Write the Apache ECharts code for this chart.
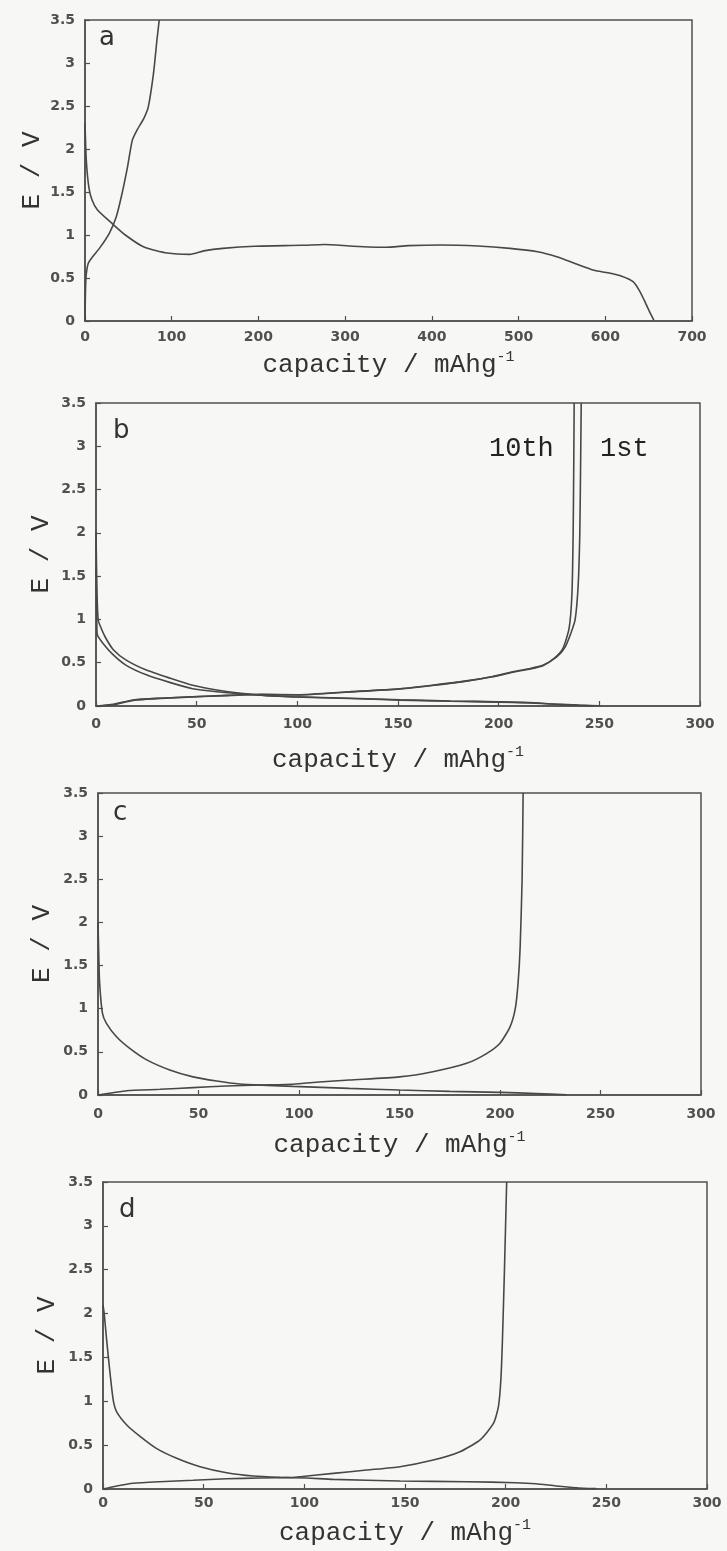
<!DOCTYPE html>
<html>
<head>
<meta charset="utf-8">
<script src="https://cdn.jsdelivr.net/npm/echarts@6/dist/echarts.min.js"></script>
<style>
  html, body { margin: 0; padding: 0; background: #f7f7f5; }
  #chart { width: 727px; height: 1551px; }
</style>
</head>
<body>
<div id="chart"></div>
<script>
// Charge/discharge profiles: [capacity (mAh/g), potential (V)]

// (a) first cycle
const aDischarge = [[0,2.3],[1.5,1.87],[4.5,1.55],[8,1.41],[14.4,1.29],[30.5,1.14],[46.5,1.0],[68,0.86],[95,0.79],[121,0.775],[137,0.815],[159,0.845],[196,0.87],[250,0.88],[276,0.89],[309,0.87],[346,0.857],[373,0.876],[410,0.884],[453,0.872],[490,0.845],[522,0.806],[544,0.748],[565,0.67],[587,0.59],[603,0.56],[619,0.52],[632,0.457],[639,0.36],[645,0.24],[651,0.11],[656,0.01]];
const aCharge = [[0,0],[1,0.48],[3.7,0.67],[9,0.75],[17,0.85],[28,1.02],[36,1.21],[42,1.45],[49,1.79],[54.5,2.1],[60,2.22],[68,2.36],[73,2.49],[79,2.88],[83,3.27],[85.6,3.5]];

// (b) 1st and 10th cycles
const b1Discharge = [[0,2.0],[0.5,1.3],[1.1,0.99],[2,0.93],[4.5,0.8],[8.6,0.65],[15,0.53],[25,0.415],[37,0.32],[48,0.24],[60,0.185],[72,0.147],[85,0.12],[98,0.107],[126,0.09],[151,0.072],[176,0.058],[200,0.048],[215,0.04],[228,0.022],[240,0.01],[250,0.003]];
const b10Discharge = [[0,1.6],[0.4,0.95],[0.7,0.82],[3.6,0.72],[8.6,0.59],[15,0.47],[25,0.36],[37,0.27],[48,0.2],[60,0.165],[72,0.14],[85,0.12],[98,0.105],[126,0.087],[151,0.068],[176,0.055],[200,0.045],[215,0.036],[228,0.02],[238,0.008],[247,0.002]];
const b1Charge = [[0,0],[8.6,0.02],[18.5,0.07],[32,0.09],[48,0.107],[65,0.123],[82,0.135],[100,0.13],[126,0.165],[151,0.2],[167,0.24],[184,0.29],[197,0.34],[207,0.395],[215,0.43],[222,0.47],[229,0.57],[233,0.68],[236,0.85],[238,1.0],[239.5,1.4],[240.3,2.0],[240.7,2.8],[241,3.5]];
const b10Charge = [[0,0],[8.6,0.015],[18.5,0.065],[32,0.088],[48,0.105],[65,0.12],[82,0.132],[100,0.127],[126,0.162],[151,0.198],[167,0.237],[184,0.287],[197,0.337],[207,0.39],[215,0.425],[222,0.465],[228,0.56],[232,0.67],[235,0.9],[236.4,1.3],[237,2.0],[237.3,2.8],[237.5,3.5]];

// (c)
const cDischarge = [[0,2.0],[0.4,1.6],[0.8,1.3],[2.2,0.95],[4.2,0.83],[9.2,0.675],[15.8,0.54],[24,0.41],[35.7,0.29],[47.3,0.21],[59,0.162],[70.5,0.127],[84,0.112],[97,0.1],[125,0.077],[150,0.058],[175,0.042],[200,0.03],[218,0.018],[233,0.003]];
const cCharge = [[0,0],[7.5,0.027],[14.3,0.05],[31,0.066],[47.3,0.085],[64,0.104],[80.5,0.116],[97,0.125],[110,0.15],[125,0.174],[150,0.21],[166.6,0.27],[183.4,0.367],[193.3,0.48],[200,0.6],[205,0.79],[207.6,1.0],[209,1.3],[210,1.7],[211,2.5],[211.5,3.5]];

// (d)
const dDischarge = [[0,2.1],[0.6,2.0],[1.8,1.7],[3.5,1.32],[5.1,1.01],[6.8,0.88],[11.8,0.73],[18.4,0.6],[26.7,0.46],[36.6,0.35],[48.2,0.254],[61.4,0.186],[74.7,0.148],[88,0.133],[101,0.125],[114.4,0.11],[147.5,0.091],[180.7,0.083],[205,0.072],[215,0.06],[225,0.035],[235,0.015],[245,0.004]];
const dCharge = [[0,0],[6.8,0.034],[15,0.065],[28,0.083],[44.7,0.1],[61.4,0.117],[78,0.125],[94.6,0.133],[98,0.14],[114.4,0.178],[131,0.216],[147.5,0.254],[164,0.33],[177.3,0.425],[187.3,0.56],[194,0.75],[196.4,0.94],[197.6,1.24],[198.4,1.7],[199.4,2.5],[200.5,3.5]];

// axis ranges and captions
const xMaxA = 700, xStepA = 100;
const xMaxBCD = 300, xStepBCD = 50;
const yMax = 3.5, yStep = 0.5;
const xTitle = '{m|capacity / mAhg}{s|-1}';
const yTitle = 'E / V';
const panelLetters = ['a', 'b', 'c', 'd'];
const cycleLabels = ['10th', '1st'];

const INK = '#484848';
const TICK_FONT = 'DejaVu Sans';
const TYPE_FONT = 'Liberation Mono';

const grids = [
  { left: 85,  top: 20,   width: 607, height: 301 },
  { left: 96,  top: 403,  width: 604, height: 303 },
  { left: 98,  top: 793,  width: 603, height: 302 },
  { left: 103, top: 1182, width: 604, height: 307 }
].map(g => Object.assign(g, { show: true, borderColor: '#505050', borderWidth: 1.5, backgroundColor: 'transparent' }));

const xNameGaps = [29, 39, 35, 29];
const xLabelMargins = [9, 11, 12, 7];
const yNameGaps = [40, 42, 43, 43];

function xAxisFor(i, max, step) {
  return {
    type: 'value', gridIndex: i, min: 0, max: max, interval: step,
    name: xTitle, nameLocation: 'middle', nameGap: xNameGaps[i],
    nameTextStyle: {
      rich: {
        m: { fontFamily: TYPE_FONT, fontSize: 26, color: '#333', lineHeight: 30 },
        s: { fontFamily: TYPE_FONT, fontSize: 15, color: '#333', lineHeight: 12, verticalAlign: 'top' }
      }
    },
    axisLine: { show: true, lineStyle: { color: '#505050', width: 1.5 } },
    axisTick: { show: true, inside: true, length: 5, lineStyle: { color: '#505050', width: 1.2 } },
    axisLabel: { fontFamily: TICK_FONT, fontWeight: 'bold', fontSize: 14, color: '#505050', margin: xLabelMargins[i] },
    splitLine: { show: false }
  };
}

function yAxisFor(i) {
  return {
    type: 'value', gridIndex: i, min: 0, max: yMax, interval: yStep,
    name: yTitle, nameLocation: 'middle', nameRotate: 90, nameGap: yNameGaps[i],
    nameMoveOverlap: false,
    nameTextStyle: { fontFamily: TYPE_FONT, fontSize: 26, color: '#333' },
    axisLine: { show: true, lineStyle: { color: '#505050', width: 1.5 } },
    axisTick: { show: true, inside: true, length: 5, lineStyle: { color: '#505050', width: 1.2 } },
    axisLabel: { fontFamily: TICK_FONT, fontWeight: 'bold', fontSize: 14, color: '#505050', margin: 10 },
    splitLine: { show: false }
  };
}

function curve(name, data, i) {
  return {
    name: name, type: 'line', xAxisIndex: i, yAxisIndex: i, data: data,
    showSymbol: false, smooth: 0.2, silent: true,
    lineStyle: { color: INK, width: 1.6 }
  };
}

const letterPos = [[99, 25], [113, 418], [113, 800], [119, 1197]];
const graphic = panelLetters.map((t, k) => ({
  type: 'text', left: letterPos[k][0], top: letterPos[k][1],
  style: { text: t, font: '26px "DejaVu Sans"', fill: '#333' }
})).concat([
  { type: 'text', left: 489, top: 435, style: { text: cycleLabels[0], font: '27px "Liberation Mono"', fill: '#222' } },
  { type: 'text', left: 600, top: 435, style: { text: cycleLabels[1], font: '27px "Liberation Mono"', fill: '#222' } }
]);

const chart = echarts.init(document.getElementById('chart'), null, { renderer: 'canvas' });
chart.setOption({
  backgroundColor: '#f7f7f5',
  animation: false,
  grid: grids,
  xAxis: [xAxisFor(0, xMaxA, xStepA), xAxisFor(1, xMaxBCD, xStepBCD), xAxisFor(2, xMaxBCD, xStepBCD), xAxisFor(3, xMaxBCD, xStepBCD)],
  yAxis: [yAxisFor(0), yAxisFor(1), yAxisFor(2), yAxisFor(3)],
  graphic: graphic,
  series: [
    curve('a discharge', aDischarge, 0),
    curve('a charge', aCharge, 0),
    curve('1st discharge', b1Discharge, 1),
    curve('10th discharge', b10Discharge, 1),
    curve('1st charge', b1Charge, 1),
    curve('10th charge', b10Charge, 1),
    curve('c discharge', cDischarge, 2),
    curve('c charge', cCharge, 2),
    curve('d discharge', dDischarge, 3),
    curve('d charge', dCharge, 3)
  ]
});
</script>
</body>
</html>
